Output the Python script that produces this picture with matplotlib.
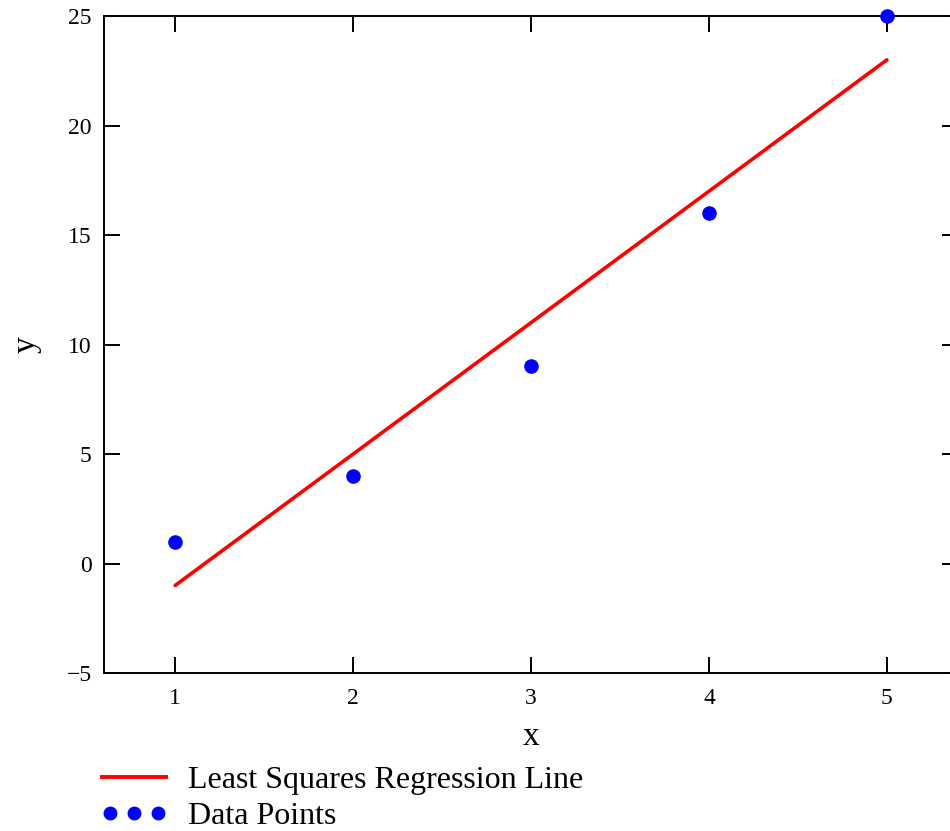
import numpy as np
import matplotlib.pyplot as plt
from matplotlib.lines import Line2D
from matplotlib.legend_handler import HandlerLine2D

plt.rcParams['font.family'] = ['Liberation Serif', 'DejaVu Serif']

# data
x_pts = [1, 2, 3, 4, 5]
y_pts = [1, 4, 9, 16, 25]
x_line = [1, 5]
y_line = [-1, 23]
x_ticks = [1, 2, 3, 4, 5]
y_ticks = [-5, 0, 5, 10, 15, 20, 25]

fig = plt.figure(figsize=(9.5, 8.31), dpi=100)
ax = fig.add_axes([0.1095, 0.1901, 0.899, 0.7906])

ax.plot(x_line, y_line, color='red', lw=2.6, solid_capstyle='round', zorder=2)
ax.plot(x_pts, y_pts, 'o', color='blue', ms=10.5, mec='none', zorder=3, clip_on=False)

ax.set_xlim(0.6, 5.4)
ax.set_ylim(-5, 25)
ax.set_xticks(x_ticks)
ax.set_yticks(y_ticks)
ax.set_yticklabels(['\u22125' if v < 0 else str(v) for v in y_ticks])

ax.tick_params(direction='in', length=11.5, width=1.4, labelsize=17,
               top=True, right=True)
ax.tick_params(axis='x', pad=11)
ax.tick_params(axis='y', pad=9)
for s in ax.spines.values():
    s.set_linewidth(1.4)

ax.set_xlabel('x', fontsize=24, labelpad=9)
ax.set_ylabel('y', fontsize=24, labelpad=18)

line_h = Line2D([], [], color='red', lw=2.8)
dot_h = Line2D([], [], marker='o', ls='none', color='blue', ms=10, mec='none')
fig.legend([line_h, dot_h], ['Least Squares Regression Line', 'Data Points'],
           loc='upper left', bbox_to_anchor=(0.107, 0.079), frameon=False,
           fontsize=23, handlelength=2.0, handletextpad=0.7,
           labelspacing=0.22, borderpad=0, borderaxespad=0,
           handler_map={line_h: HandlerLine2D(numpoints=1),
                        dot_h: HandlerLine2D(numpoints=3, marker_pad=0.25)})

fig.savefig('out.png', dpi=100)
plt.close(fig)
